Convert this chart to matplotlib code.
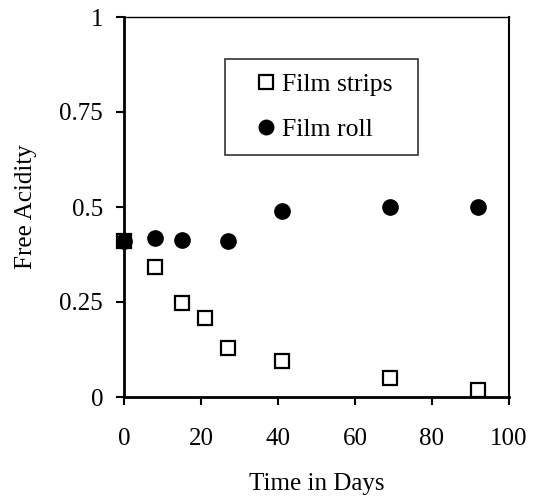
import matplotlib.pyplot as plt

plt.rcParams['font.family'] = 'Liberation Serif'

days_strips = [0, 8, 15, 21, 27, 41, 69, 92]
acidity_strips = [0.41, 0.343, 0.248, 0.209, 0.13, 0.095, 0.05, 0.018]

days_roll = [0, 8, 15, 27, 41, 69, 92]
acidity_roll = [0.41, 0.418, 0.413, 0.41, 0.489, 0.50, 0.50]

x_ticks = [0, 20, 40, 60, 80, 100]
y_ticks = [0, 0.25, 0.5, 0.75, 1]
y_tick_labels = ['0', '0.25', '0.5', '0.75', '1']

fig = plt.figure(figsize=(5.34, 5.0), dpi=100)
ax = fig.add_axes([0.232, 0.206, 0.721, 0.76])

ax.plot(days_strips, acidity_strips, linestyle='none', marker='s', markersize=10,
        markerfacecolor='white', markeredgecolor='black', markeredgewidth=1.6,
        label='Film strips', clip_on=False)
ax.plot(days_roll, acidity_roll, linestyle='none', marker='o', markersize=11,
        color='black', label='Film roll', clip_on=False)

ax.set_xlim(0, 100)
ax.set_ylim(0, 1)
ax.set_xticks(x_ticks)
ax.set_yticks(y_ticks)
ax.set_yticklabels(y_tick_labels)
ax.tick_params(direction='out', length=6, width=1.5, labelsize=18)
ax.tick_params(axis='y', pad=9)
ax.tick_params(axis='x', pad=16)

ax.spines['left'].set_linewidth(2)
ax.spines['bottom'].set_linewidth(2)
ax.spines['top'].set_linewidth(1)
ax.spines['right'].set_linewidth(1.5)

ax.set_xlabel('Time in Days', fontsize=18, labelpad=17)
ax.set_ylabel('Free Acidity', fontsize=18, labelpad=16)

# legend box stretched to the width seen in the reference
leg = ax.legend(loc='upper left', bbox_to_anchor=(0.262, 0.637, 0.502, 0.252),
                mode='expand', fontsize=18.5,
                frameon=True, fancybox=False, edgecolor='black', handletextpad=-0.44,
                handlelength=2.1, borderpad=0.55, labelspacing=0.85, borderaxespad=0,
                markerscale=0.95)
leg.get_frame().set_linewidth(1.2)

fig.savefig('out.png', dpi=100)
